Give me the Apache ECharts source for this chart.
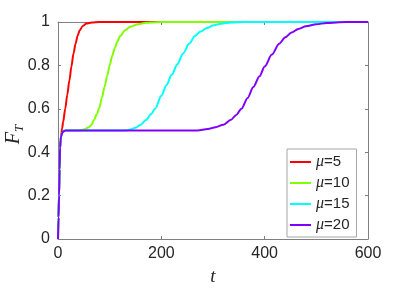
<!DOCTYPE html>
<html>
<head>
<meta charset="utf-8">
<script src="https://cdn.jsdelivr.net/npm/echarts@6/dist/echarts.min.js"></script>
<style>html,body{margin:0;padding:0;background:#fff}#c{width:407px;height:288px}</style>
</head>
<body>
<div id="c"></div>
<script>
const legendNames = ['μ=5', 'μ=10', 'μ=15', 'μ=20'];
const xTicks = [0, 200, 400, 600];
const yTicks = [0, 0.2, 0.4, 0.6, 0.8, 1];

const t5 = [0, 1, 2, 3, 4, 6, 8, 10, 14, 18, 22, 26, 30, 34, 38, 42, 48, 55, 65, 80, 600];
const f5 = [0, 0.1, 0.2, 0.32, 0.42, 0.475, 0.51, 0.54, 0.6, 0.665, 0.73, 0.795, 0.855, 0.9, 0.937, 0.962, 0.982, 0.993, 0.998, 1, 1];

const t10 = [0, 1, 2, 3, 4, 5, 6, 8, 10, 13, 17, 40, 50, 60, 65, 70, 75, 80, 85, 90, 95, 100, 105, 110, 115, 120, 130, 140, 155, 170, 190, 210, 600];
const f10 = [0, 0.1, 0.2, 0.32, 0.42, 0.455, 0.472, 0.488, 0.495, 0.499, 0.5, 0.5, 0.505, 0.515, 0.527, 0.55, 0.575, 0.605, 0.65, 0.7, 0.75, 0.8, 0.845, 0.88, 0.91, 0.935, 0.962, 0.978, 0.99, 0.996, 0.999, 1, 1];

const t15 = [0, 1, 2, 3, 4, 5, 6, 8, 10, 13, 17, 130, 140, 150, 160, 170, 180, 188, 200, 210, 220, 231, 242, 254, 265, 275, 288, 300, 315, 335, 360, 600];
const f15 = [0, 0.1, 0.2, 0.32, 0.42, 0.455, 0.472, 0.488, 0.495, 0.499, 0.5, 0.5, 0.505, 0.513, 0.527, 0.548, 0.575, 0.6, 0.66, 0.71, 0.757, 0.805, 0.855, 0.9, 0.935, 0.955, 0.972, 0.984, 0.992, 0.998, 1, 1];

const t20 = [0, 1, 2, 3, 4, 5, 6, 8, 10, 13, 17, 270, 290, 305, 320, 335, 345, 355, 367, 378, 390, 400, 414, 428, 440, 452, 465, 480, 500, 520, 545, 570, 600];
const f20 = [0, 0.1, 0.2, 0.32, 0.42, 0.455, 0.472, 0.488, 0.495, 0.499, 0.5, 0.5, 0.507, 0.515, 0.527, 0.55, 0.572, 0.6, 0.65, 0.7, 0.75, 0.795, 0.85, 0.9, 0.93, 0.952, 0.968, 0.98, 0.99, 0.995, 0.999, 1, 1];

const colors = ['#ff0000', '#80ff00', '#00ffff', '#8000ff'];
const tSets = [t5, t10, t15, t20];
const fSets = [f5, f10, f15, f20];

function pairs(t, f) { return t.map((v, i) => [v, f[i]]); }

const axisColor = '#7f7f7f';
const labelColor = '#262626';
const font = 'Liberation Sans, Arial, sans-serif';

const chart = echarts.init(document.getElementById('c'), null, { renderer: 'canvas' });
chart.setOption({
  animation: false,
  backgroundColor: '#ffffff',
  grid: { left: 58, right: 39, top: 22, bottom: 49, containLabel: false, outerBoundsMode: 'none' },
  legend: {
    orient: 'vertical',
    left: 287, top: 149,
    padding: [5, 7, 4, 2],
    itemWidth: 21, itemHeight: 14, itemGap: 5,
    backgroundColor: '#ffffff',
    borderColor: '#a6a6a6', borderWidth: 1, borderRadius: 0,
    data: legendNames,
    itemStyle: { color: 'rgba(0,0,0,0)', borderWidth: 0, borderColor: 'rgba(0,0,0,0)' },
    formatter: function (n) { return '{i|μ}' + n.slice(1); },
    textStyle: {
      color: labelColor, fontFamily: font, fontSize: 15,
      rich: { i: { fontFamily: 'Liberation Serif, serif', fontStyle: 'italic', fontSize: 16, color: labelColor } }
    }
  },
  xAxis: [{
    type: 'value', min: xTicks[0], max: xTicks[xTicks.length - 1], interval: 200,
    name: 't', nameLocation: 'middle', nameGap: 28, nameMoveOverlap: false,
    nameTextStyle: { fontFamily: 'Liberation Serif, serif', fontStyle: 'italic', fontSize: 19, color: labelColor },
    axisLine: { show: true, lineStyle: { color: axisColor, width: 1 } },
    axisTick: { show: true, inside: true, length: 3, lineStyle: { color: axisColor } },
    axisLabel: { color: labelColor, fontFamily: font, fontSize: 16, margin: 7 },
    splitLine: { show: false }
  }, {
    type: 'value', position: 'top', min: 0, max: 600, interval: 200,
    axisLine: { show: true, onZero: false, lineStyle: { color: axisColor, width: 1 } },
    axisTick: { show: true, inside: true, length: 3, lineStyle: { color: axisColor } },
    axisLabel: { show: false }, splitLine: { show: false }
  }],
  yAxis: [{
    type: 'value', min: yTicks[0], max: yTicks[yTicks.length - 1], interval: 0.2,
    name: '{f|F}{s|T}', nameLocation: 'middle', nameGap: 32, nameRotate: 90, nameMoveOverlap: false,
    nameTextStyle: {
      color: labelColor,
      rich: {
        f: { fontFamily: 'Liberation Serif, serif', fontStyle: 'italic', fontSize: 20, color: labelColor, verticalAlign: 'middle', lineHeight: 24 },
        s: { fontFamily: 'Liberation Serif, serif', fontStyle: 'italic', fontSize: 13, color: labelColor, verticalAlign: 'bottom', lineHeight: 24, padding: [7, 8, 0, 0] }
      }
    },
    axisLine: { show: true, lineStyle: { color: axisColor, width: 1 } },
    axisTick: { show: true, inside: true, length: 3, lineStyle: { color: axisColor } },
    axisLabel: { color: labelColor, fontFamily: font, fontSize: 16, margin: 8 },
    splitLine: { show: false }
  }, {
    type: 'value', position: 'right', min: 0, max: 1, interval: 0.2,
    axisLine: { show: true, onZero: false, lineStyle: { color: axisColor, width: 1 } },
    axisTick: { show: true, inside: true, length: 3, lineStyle: { color: axisColor } },
    axisLabel: { show: false }, splitLine: { show: false }
  }],
  series: legendNames.map((n, i) => ({
    name: n, type: 'line', xAxisIndex: 0, yAxisIndex: 0,
    data: pairs(tSets[i], fSets[i]),
    showSymbol: false, symbol: 'none',
    smooth: 0.3, smoothMonotone: 'x',
    lineStyle: { color: colors[i], width: 2 },
    itemStyle: { color: colors[i] },
    z: 2 + i
  }))
});
</script>
</body>
</html>
